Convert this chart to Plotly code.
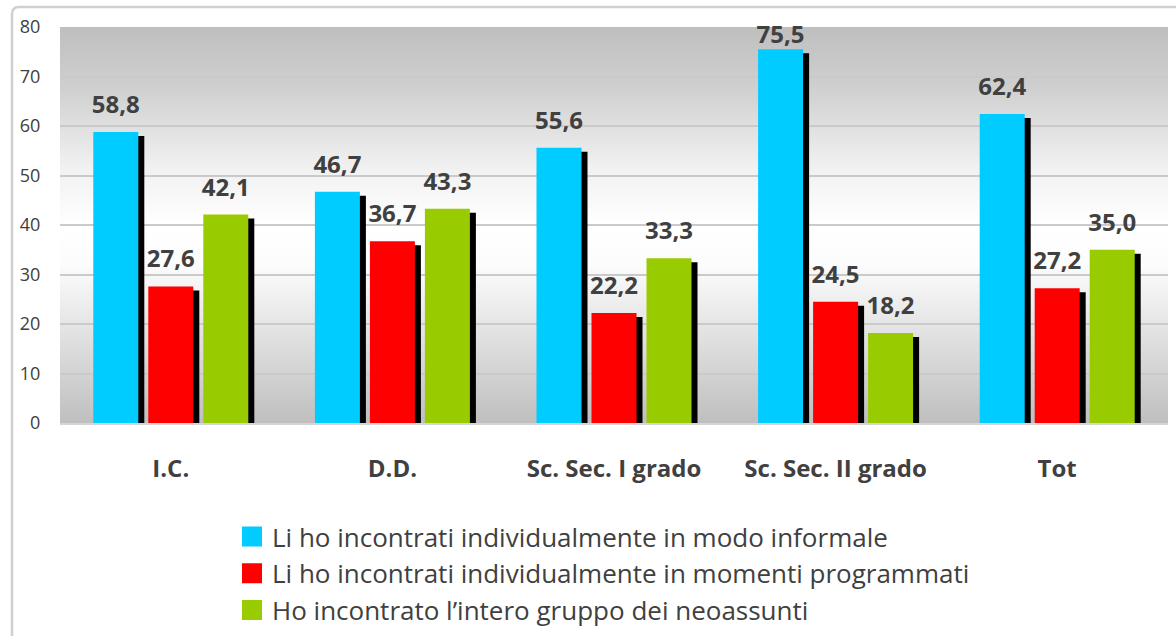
import base64
import plotly.graph_objects as go

# ---------------- data ----------------
categories = ["I.C.", "D.D.", "Sc. Sec. I grado", "Sc. Sec. II grado", "Tot"]
series_names = [
    "Li ho incontrati individualmente in modo informale",
    "Li ho incontrati individualmente in momenti programmati",
    "Ho incontrato l\u2019intero gruppo dei neoassunti",
]
informale = [58.8, 46.7, 55.6, 75.5, 62.4]
programmati = [27.6, 36.7, 22.2, 24.5, 27.2]
gruppo = [42.1, 43.3, 33.3, 18.2, 35.0]
y_ticks = [0, 10, 20, 30, 40, 50, 60, 70, 80]

series_values = [informale, programmati, gruppo]
colors = ["#00CCFF", "#FF0000", "#99CC00"]

# ---------------- geometry / style ----------------
W, H = 1176, 636
ML, MR, MT, MB = 60, 8, 27, 213
plot_w = W - ML - MR
plot_h = H - MT - MB
cat_px = plot_w / len(categories)
ppu = plot_h / 80.0            # pixels per y unit
pitch = 55 / cat_px            # distance between bars in a group
bw = 45 / cat_px               # bar width
sh_dx = 6 / cat_px             # shadow x offset
sh_dy = 4 / ppu                # shadow y offset
TXT = "#404040"
FONT = "Open Sans"

fig = go.Figure()
xi = list(range(len(categories)))

# shadows
for j, vals in enumerate(series_values):
    fig.add_trace(go.Bar(
        x=[i + (j - 1) * pitch + sh_dx for i in xi],
        y=[v - sh_dy for v in vals],
        width=bw, marker=dict(color="#000000", line=dict(width=0)),
        showlegend=False, hoverinfo="skip",
    ))
# bars
for j, vals in enumerate(series_values):
    fig.add_trace(go.Bar(
        x=[i + (j - 1) * pitch for i in xi],
        y=vals, width=bw, name=series_names[j],
        marker=dict(color=colors[j], line=dict(width=0)),
        showlegend=False,
    ))
# value labels
for j, vals in enumerate(series_values):
    fig.add_trace(go.Scatter(
        x=[i + (j - 1) * pitch for i in xi],
        y=[min(v + 25 / ppu, 80 - 10 / ppu) for v in vals],
        mode="text",
        text=[f"{v:.1f}".replace(".", ",") for v in vals],
        textposition="middle center",
        textfont=dict(family=FONT, size=24, color=TXT, weight="bold"),
        showlegend=False, hoverinfo="skip", cliponaxis=False,
    ))
# legend entries
for j in range(3):
    fig.add_trace(go.Scatter(
        x=[None], y=[None], mode="markers", name=series_names[j],
        marker=dict(symbol="square", size=16, color=colors[j],
                    line=dict(width=4, color=colors[j])),
        showlegend=True,
    ))

# gradient background as svg image
svg = ('<svg xmlns="http://www.w3.org/2000/svg" width="10" height="100" '
       'viewBox="0 0 10 100" preserveAspectRatio="none">'
       '<defs><linearGradient id="g" x1="0" y1="0" x2="0" y2="1">'
       '<stop offset="0" stop-color="#bfbfbf"/>'
       '<stop offset="0.15" stop-color="#cfcfcf"/>'
       '<stop offset="0.35" stop-color="#f0f0f0"/>'
       '<stop offset="0.5" stop-color="#ffffff"/>'
       '<stop offset="0.6" stop-color="#fcfcfc"/>'
       '<stop offset="0.8" stop-color="#dedede"/>'
       '<stop offset="1" stop-color="#bfbfbf"/>'
       '</linearGradient></defs>'
       '<rect x="0" y="0" width="10" height="100" fill="url(#g)"/></svg>')
src = "data:image/svg+xml;base64," + base64.b64encode(svg.encode()).decode()

# outer frame (rounded top-left corner)
fx0 = (12 - ML) / plot_w
fy0 = 1 + (MT - 7) / plot_h
rx, ry = 7 / plot_w, 7 / plot_h
fx1 = (W + 10 - ML) / plot_w
fyb = -(H + 10 - MT - plot_h) / plot_h
frame_path = (f"M {fx0},{fyb} L {fx0},{fy0 - ry} Q {fx0},{fy0} {fx0 + rx},{fy0} "
              f"L {fx1},{fy0}")

fig.update_layout(
    width=W, height=H, autosize=False,
    margin=dict(l=ML, r=MR, t=MT, b=MB, autoexpand=False),
    paper_bgcolor="#ffffff", plot_bgcolor="rgba(0,0,0,0)",
    barmode="overlay", hovermode=False,
    font=dict(family=FONT, color=TXT),
    images=[dict(source=src, xref="paper", yref="paper", x=0, y=1,
                 sizex=1, sizey=1, sizing="stretch", xanchor="left",
                 yanchor="top", layer="below")],
    shapes=[dict(type="path", path=frame_path, xref="paper", yref="paper",
                 line=dict(color="#d0d0d0", width=2.5), layer="below")],
    legend=dict(x=(232 - ML) / plot_w, xref="paper",
                y=1 - 513 / H, yref="container",
                xanchor="left", yanchor="top", orientation="v",
                font=dict(family=FONT, size=26, color=TXT),
                bgcolor="rgba(0,0,0,0)", itemclick=False),
    xaxis=dict(range=[-0.5, len(categories) - 0.5], tickmode="array",
               tickvals=xi, ticktext=categories, showgrid=False,
               zeroline=False, showline=True, linecolor="#d6d6d6",
               linewidth=2, ticks="outside", ticklen=23,
               tickcolor="rgba(0,0,0,0)",
               tickfont=dict(family=FONT, size=24, color=TXT, weight="bold")),
    yaxis=dict(range=[0, 80], tickmode="array", tickvals=y_ticks,
               showgrid=True, gridcolor="#cacaca", gridwidth=1.5,
               zeroline=False, showline=False, ticks="outside", ticklen=15,
               tickcolor="rgba(0,0,0,0)",
               tickfont=dict(family=FONT, size=18, color=TXT)),
)

fig.write_html("out.html", config={"displayModeBar": False},
               post_script="document.body.style.margin='0px';"
                           "document.body.style.overflow='hidden';")
